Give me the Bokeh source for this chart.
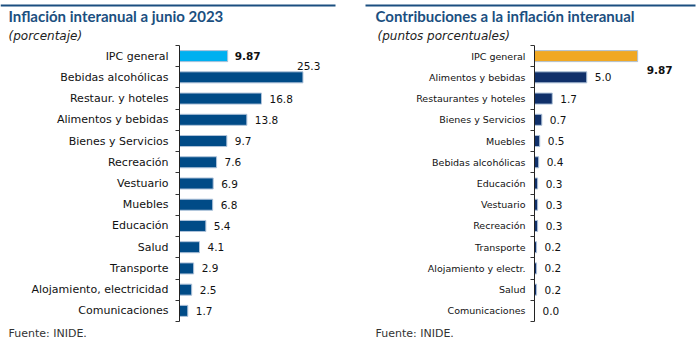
from bokeh.plotting import figure
from bokeh.models import Range1d, FixedTicker, Label, BoxAnnotation, ColumnDataSource
from bokeh.layouts import row
from bokeh.embed import file_html
from bokeh.resources import INLINE
from bokeh.core.properties import value

# ---------------- data ----------------
left_categories = ["IPC general", "Bebidas alcohólicas", "Restaur. y hoteles",
                   "Alimentos y bebidas", "Bienes y Servicios", "Recreación",
                   "Vestuario", "Muebles", "Educación", "Salud", "Transporte",
                   "Alojamiento, electricidad", "Comunicaciones"]
left_values = [9.87, 25.3, 16.8, 13.8, 9.7, 7.6, 6.9, 6.8, 5.4, 4.1, 2.9, 2.5, 1.7]
left_labels = ["9.87", "25.3", "16.8", "13.8", "9.7", "7.6", "6.9", "6.8",
               "5.4", "4.1", "2.9", "2.5", "1.7"]

right_categories = ["IPC general", "Alimentos y bebidas", "Restaurantes y hoteles",
                    "Bienes y Servicios", "Muebles", "Bebidas alcohólicas",
                    "Educación", "Vestuario", "Recreación", "Transporte",
                    "Alojamiento y electr.", "Salud", "Comunicaciones"]
right_values = [9.87, 5.0, 1.7, 0.7, 0.5, 0.4, 0.3, 0.3, 0.3, 0.2, 0.2, 0.2, 0.0]
right_labels = ["9.87", "5.0", "1.7", "0.7", "0.5", "0.4", "0.3", "0.3", "0.3",
                "0.2", "0.2", "0.2", "0.0"]

TITLE_COLOR = "#1B4F80"
LEFT_BAR = "#004B87"
LEFT_IPC = "#00B0F0"
RIGHT_BAR = "#10306A"
RIGHT_IPC = "#F0A823"
LABEL_FONT = "DejaVu Sans"

W = H = 349
AXIS_TOP, AXIS_BOTTOM = 45, 321   # pixel rows of the category band


def make_panel(cats, vals, labels, bar_color, ipc_color, axis_px, px_per_unit,
               cat_font_size, standoff, title, subtitle, rule_left, rule_right,
               text_x, sub_x, special):
    n = len(cats)
    pos = list(range(n))
    colors = [ipc_color] + [bar_color] * (n - 1)
    row_px = (AXIS_BOTTOM - AXIS_TOP) / n
    x_range = Range1d(-axis_px / px_per_unit, (W - axis_px) / px_per_unit)
    y_range = Range1d(n - 0.5 + (H - AXIS_BOTTOM) / row_px, -0.5 - AXIS_TOP / row_px)
    p = figure(width=W, height=H, output_backend="svg", toolbar_location=None,
               x_range=x_range, y_range=y_range,
               min_border_left=0, min_border_right=0,
               min_border_top=0, min_border_bottom=0)
    p.outline_line_color = None
    p.xgrid.visible = False
    p.ygrid.visible = False
    p.xaxis.visible = False
    p.background_fill_color = "white"
    p.border_fill_color = "white"

    ax = p.yaxis[0]
    ax.fixed_location = 0
    ax.bounds = (-0.5, n - 0.5)
    ax.ticker = FixedTicker(ticks=pos, minor_ticks=[i - 0.5 for i in range(n + 1)])
    ax.major_label_overrides = {i: c for i, c in enumerate(cats)}
    ax.major_tick_line_color = None
    ax.major_tick_out = 0
    ax.major_tick_in = 0
    ax.minor_tick_line_color = "#333333"
    ax.minor_tick_out = 4
    ax.minor_tick_in = 0
    ax.axis_line_color = "#222222"
    ax.major_label_text_font = LABEL_FONT
    ax.major_label_text_font_size = cat_font_size
    ax.major_label_text_color = "#111111"
    ax.major_label_standoff = standoff

    src = ColumnDataSource(dict(y=pos, v=vals, c=colors, t=labels))
    p.hbar(y="y", left=0, right="v", height=0.52, fill_color="c",
           line_color="#AFC3DA", line_width=1, source=src)

    # value labels
    normal_idx = [i for i in range(1, n) if i != special.get("idx", -1)]
    nsrc = ColumnDataSource(dict(y=[pos[i] for i in normal_idx],
                                 v=[vals[i] for i in normal_idx],
                                 t=[labels[i] for i in normal_idx]))
    p.text(x="v", y="y", text="t", source=nsrc, x_offset=8, text_baseline="middle",
           text_font=value(LABEL_FONT), text_font_size="10.5px", text_color="#111111")
    # IPC label
    isrc = ColumnDataSource(dict(y=[pos[0]], v=[vals[0]], t=[labels[0]]))
    p.text(x="v", y="y", text="t", source=isrc, x_offset=special["ipc_dx"],
           y_offset=special["ipc_dy"], text_baseline="middle",
           text_font=value(LABEL_FONT), text_font_size="10.5px",
           text_font_style="bold", text_color="#111111")
    if "idx" in special:
        k = special["idx"]
        ssrc = ColumnDataSource(dict(y=[pos[k]], v=[vals[k]], t=[labels[k]]))
        p.text(x="v", y="y", text="t", source=ssrc, x_offset=-6, y_offset=-11,
               text_baseline="middle", text_font=value(LABEL_FONT),
               text_font_size="10.5px", text_color="#111111")

    # titles and notes (screen units from the canvas bottom-left, frame == canvas)
    def sy(py):
        return H - py

    p.add_layout(Label(x=text_x, y=sy(15), x_units="screen", y_units="screen",
                       text=title, text_font="Lato", text_font_size="15px",
                       text_font_style="bold", text_color=TITLE_COLOR,
                       text_baseline="middle"))
    p.add_layout(Label(x=sub_x, y=sy(35), x_units="screen", y_units="screen",
                       text=subtitle, text_font=LABEL_FONT, text_font_size="12px",
                       text_font_style="italic", text_color="#222222",
                       text_baseline="middle"))
    p.add_layout(Label(x=text_x, y=sy(333), x_units="screen", y_units="screen",
                       text="Fuente: INIDE.", text_font=LABEL_FONT,
                       text_font_size="11px", text_color="#333333",
                       text_baseline="middle"))
    p.add_layout(BoxAnnotation(left=rule_left, right=rule_right, top=sy(4),
                               bottom=sy(6), left_units="screen", right_units="screen",
                               top_units="screen", bottom_units="screen",
                               fill_color=TITLE_COLOR, fill_alpha=1, line_color=None))
    return p


p1 = make_panel(left_categories, left_values, left_labels, LEFT_BAR, LEFT_IPC,
                179, 4.88, "11px", 7, "Inflación interanual a junio 2023",
                "(porcentaje)", 0, 335, 8, 8, {"idx": 1, "ipc_dx": 7, "ipc_dy": 0})
p2 = make_panel(right_categories, right_values, right_labels, RIGHT_BAR, RIGHT_IPC,
                185, 10.45, "9.5px", 5, "Contribuciones a la inflación interanual",
                "(puntos porcentuales)", 16, 346, 26, 28, {"ipc_dx": 9, "ipc_dy": 14})

layout = row(p1, p2)
open("out.html", "w").write(file_html(layout, INLINE))
